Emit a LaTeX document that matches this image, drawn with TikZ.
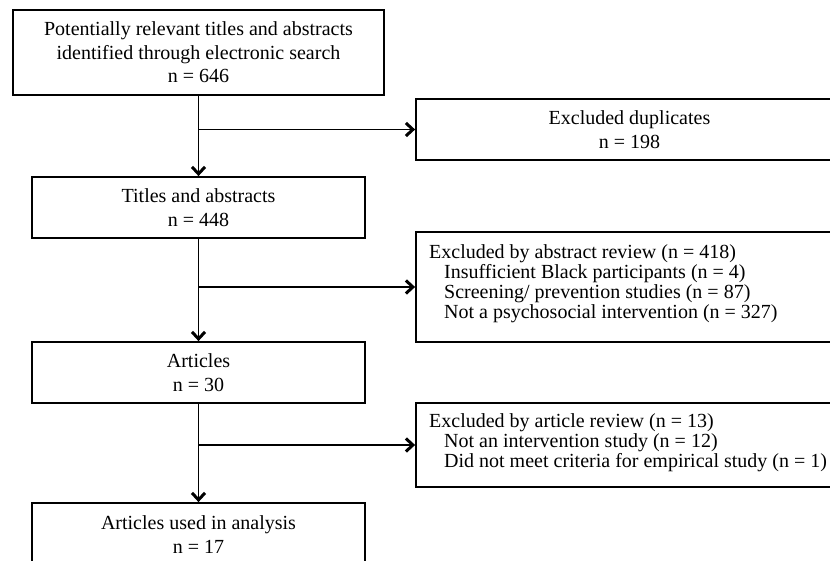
\documentclass[tikz,border=0pt]{standalone}
\usepackage{fontspec}
\setmainfont{Liberation Serif}
\usetikzlibrary{arrows.meta}
\begin{document}
\begin{tikzpicture}[x=1pt,y=-1pt,
  box/.style={draw,line width=1.8pt,rectangle,inner sep=0pt,align=center,
    font=\fontsize{20}{23.5}\selectfont},
  lbox/.style={draw,line width=1.8pt,rectangle,inner sep=0pt},
  ltext/.style={anchor=west,inner sep=0pt,align=left,font=\fontsize{20}{20}\selectfont},
  conn/.style={line width=1.5pt,-{Straight Barb[length=7pt,width=13pt,line width=3pt]}}]
\useasboundingbox (0,0) rectangle (830,561);
\begin{scope}
\clip (0,0) rectangle (830,561);
\node[box,minimum width=371pt,minimum height=85pt] (b1) at (198.5,52.5)
  {Potentially relevant titles and abstracts\\identified through electronic search\\n = 646};
\node[box,minimum width=427pt,minimum height=61pt] (dup) at (629.5,129.5)
  {Excluded duplicates\\n = 198};
\node[box,minimum width=333pt,minimum height=61pt] (b2) at (198.5,207.5)
  {Titles and abstracts\\n = 448};
\node[lbox,minimum width=427pt,minimum height=110pt] (abs) at (629.5,287) {};
\node[ltext] (abst) at (429,284)
  {Excluded by abstract review (n = 418)\\
   \hspace*{15pt}Insufficient Black participants (n = 4)\\
   \hspace*{15pt}Screening/ prevention studies (n = 87)\\
   \hspace*{15pt}Not a psychosocial intervention (n = 327)};
\node[box,minimum width=333pt,minimum height=61pt] (b3) at (198.5,372.5)
  {Articles\\n = 30};
\node[lbox,minimum width=427pt,minimum height=84pt] (art) at (629.5,445) {};
\node[ltext] (artt) at (429,443)
  {Excluded by article review (n = 13)\\
   \hspace*{15pt}Not an intervention study (n = 12)\\
   \hspace*{15pt}Did not meet criteria for empirical study (n = 1)};
\node[box,minimum width=333pt,minimum height=63pt] (b4) at (198.5,534.5)
  {Articles used in analysis\\n = 17};
\draw[conn] (b1.south) -- (b2.north);
\draw[conn] (b1.south |- dup.west) -- (dup.west);
\draw[conn] (b2.south) -- (b3.north);
\draw[conn] (b2.south |- abs.west) -- (abs.west);
\draw[conn] (b3.south) -- (b4.north);
\draw[conn] (b3.south |- art.west) -- (art.west);
\end{scope}
\end{tikzpicture}
\end{document}
